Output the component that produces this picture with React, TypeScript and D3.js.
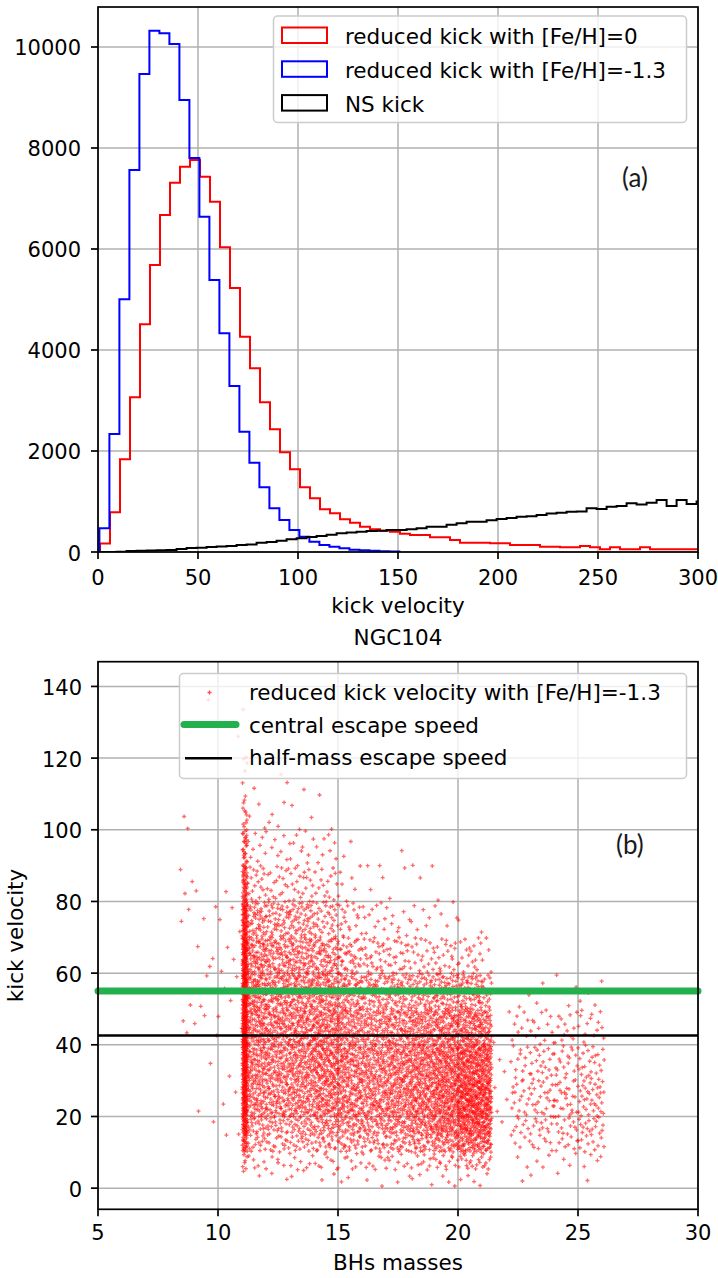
import React from 'react';
import * as d3 from 'd3';

// ---------- Panel (a): histogram data (counts per 5-unit bin) ----------
const BIN_WIDTH = 5;
const redOffset = 1;
const blueOffset = 0.7;
const nsOffset = -0.7;

const redCounts = [
  170, 786, 1835, 3063, 4508, 5683, 6673, 7313, 7630, 7762,
  7432, 6937, 6033, 5230, 4263, 3637, 2964, 2430, 1974, 1637,
  1281, 1063, 845, 766, 647, 580, 501, 449, 422, 400,
  360, 337, 337, 291, 291, 238, 185, 185, 185, 172,
  172, 139, 139, 139, 106, 106, 92, 92, 119, 92,
  53, 92, 53, 53, 92, 53, 53, 53, 53, 53,
];

const blueCounts = [
  469, 2337, 5004, 7564, 9464, 10322, 10270, 10058, 8950, 7800,
  6640, 5386, 4330, 3287, 2382, 1768, 1281, 865, 634, 436,
  303, 204, 139, 105, 73, 45, 35, 25, 15, 8,
];

const nsCounts = [
  0, 0, 5, 20, 25, 30, 35, 40, 60, 79,
  85, 100, 110, 120, 139, 150, 185, 200, 224, 250,
  271, 295, 317, 340, 370, 385, 400, 415, 422, 436,
  436, 450, 470, 501, 501, 540, 567, 600, 600, 630,
  653, 675, 699, 710, 733, 760, 779, 798, 800, 865,
  850, 898, 910, 964, 940, 977, 1030, 911, 1030, 950, 1000,
];

const histXTicks = [0, 50, 100, 150, 200, 250, 300];
const histYTicks = [0, 2000, 4000, 6000, 8000, 10000];
const histLegend = [
  { label: 'reduced kick with [Fe/H]=0', color: '#ff0000' },
  { label: 'reduced kick with [Fe/H]=-1.3', color: '#0000ff' },
  { label: 'NS kick', color: '#000000' },
];

// ---------- Panel (b): scatter density (points per mass x velocity cell) ----------
const scatXTicks = [5, 10, 15, 20, 25, 30];
const scatYTicks = [0, 20, 40, 60, 80, 100, 120, 140];
const centralEscape = 55;
const halfMassEscape = 42.6;

const massBinEdges = [8.4, 9, 10, 11.02, 11.22, 12, 13, 14, 15, 15.3, 16, 17, 18, 19, 20, 21, 21.4, 22.2, 23, 24, 25, 26.1];
const velBinEdges = [0, 5, 10, 15, 20, 30, 40, 50, 60, 70, 80, 90, 100, 110, 120, 130, 140];

// rows = mass bins, columns = velocity bins (0-5, 5-10, 10-15, 15-20, 20-30 ... 130-140)
const scatterCounts = [
  [0, 0, 0, 0, 0, 0, 2, 1, 0, 2, 3, 0, 2, 0, 0, 0],             // 8.4-9
  [0, 0, 0, 1, 1, 1, 3, 2, 3, 2, 1, 0, 0, 0, 0, 1],             // 9-10
  [0, 0, 1, 1, 2, 1, 2, 3, 3, 3, 1, 0, 0, 0, 1, 0],             // 10-11
  [1, 6, 22, 33, 80, 85, 90, 90, 80, 62, 42, 25, 11, 4, 1, 1],   // stripe 11.0-11.2
  [1, 5, 15, 23, 62, 70, 75, 75, 66, 46, 20, 8, 3, 1, 0, 0],     // 11.2-12
  [2, 6, 17, 25, 75, 82, 85, 80, 70, 48, 20, 8, 4, 3, 0, 0],     // 12-13
  [2, 7, 19, 27, 80, 90, 90, 80, 70, 48, 20, 9, 3, 1, 0, 0],     // 13-14
  [2, 8, 22, 33, 95, 105, 98, 80, 62, 34, 15, 8, 2, 0, 0, 0],    // 14-15
  [1, 2, 7, 10, 28, 30, 27, 21, 13, 7, 3, 1, 0, 0, 0, 0],        // 15-15.3
  [1, 6, 16, 24, 60, 62, 56, 44, 26, 11, 4, 1, 0, 0, 0, 0],      // 15.3-16
  [2, 8, 22, 34, 84, 84, 72, 54, 28, 11, 3, 1, 0, 0, 0, 0],      // 16-17
  [2, 9, 25, 37, 92, 92, 78, 54, 24, 8, 2, 1, 0, 0, 0, 0],       // 17-18
  [3, 11, 30, 46, 105, 105, 84, 54, 20, 6, 2, 1, 0, 0, 0, 0],    // 18-19
  [3, 13, 40, 58, 128, 120, 92, 60, 20, 5, 1, 0, 0, 0, 0, 0],    // 19-20
  [4, 18, 55, 75, 175, 145, 100, 60, 18, 2, 0, 0, 0, 0, 0, 0],   // 20-21
  [1, 7, 22, 30, 66, 58, 36, 16, 4, 0, 0, 0, 0, 0, 0, 0],        // 21-21.4
  [0, 0, 0, 1, 3, 2, 2, 0, 0, 0, 0, 0, 0, 0, 0, 0],              // 21.4-22.2
  [1, 2, 5, 7, 17, 13, 8, 2, 0, 0, 0, 0, 0, 0, 0, 0],            // 22.2-23
  [1, 3, 8, 12, 24, 20, 13, 3, 0, 0, 0, 0, 0, 0, 0, 0],          // 23-24
  [1, 3, 8, 12, 26, 20, 13, 3, 0, 0, 0, 0, 0, 0, 0, 0],          // 24-25
  [1, 4, 12, 16, 35, 25, 14, 4, 0, 0, 0, 0, 0, 0, 0, 0],         // 25-26.1
];

const scatLegend = [
  'reduced kick velocity with [Fe/H]=-1.3',
  'central escape speed',
  'half-mass escape speed',
];

// ---------- helpers ----------
function halton(i: number, b: number) {
  let f = 1;
  let r = 0;
  let n = i;
  while (n > 0) {
    f /= b;
    r += f * (n % b);
    n = Math.floor(n / b);
  }
  return r;
}

function stepPath(counts: number[], offset: number, x: any, y: any) {
  const edge = (i: number) => offset + i * BIN_WIDTH;
  let d = `M${x(edge(0))},${y(0)}`;
  counts.forEach((c, i) => {
    d += `L${x(edge(i))},${y(c)}L${x(edge(i + 1))},${y(c)}`;
  });
  d += `L${x(edge(counts.length))},${y(0)}`;
  return d;
}

const FONT = 'DejaVu Sans, sans-serif';
const GRID = '#b0b0b0';

export default function App() {
  // panel (a) scales
  const L = 98, R = 698;
  const aTop = 7, aBot = 552;
  const xa = d3.scaleLinear().domain([0, 300]).range([L, R]);
  const ya = d3.scaleLinear().domain([0, 10792]).range([aBot, aTop]);

  // panel (b) scales
  const bTop = 661.7, bBot = 1209.3;
  const xb = d3.scaleLinear().domain([5, 30]).range([L, R]);
  const yb = d3.scaleLinear().domain([-5.9, 146.9]).range([bBot, bTop]);

  // scatter points from density table
  const pts: { m: number; v: number }[] = [];
  let idx = 1;
  scatterCounts.forEach((row, mi) => {
    const m0 = massBinEdges[mi];
    const m1 = massBinEdges[mi + 1];
    row.forEach((n, vi) => {
      const v0 = velBinEdges[vi];
      const v1 = velBinEdges[vi + 1];
      for (let k = 0; k < n; k++) {
        const hx = halton(idx, 2);
        const hy = halton(idx, 3);
        idx += 1;
        pts.push({ m: m0 + hx * (m1 - m0), v: v0 + hy * (v1 - v0) });
      }
    });
  });

  const plus = (cx: number, cy: number, s = 2) =>
    `M${cx - s},${cy}h${2 * s}M${cx},${cy - s}v${2 * s}`;

  return (
    <svg width={718} height={1278} style={{ display: 'block', position: 'absolute', left: 0, top: 0 }} fontFamily={FONT}>
      <defs>
        <clipPath id="clipA">
          <rect x={L} y={aTop} width={R - L} height={aBot - aTop} />
        </clipPath>
        <clipPath id="clipB">
          <rect x={L} y={bTop} width={R - L} height={bBot - bTop} />
        </clipPath>
      </defs>
      <rect x={0} y={0} width={718} height={1278} fill="#fff" />

      {/* ---------- Panel (a) ---------- */}
      <g>
        {histXTicks.map((t) => (
          <line key={'gxa' + t} x1={xa(t)} x2={xa(t)} y1={aTop} y2={aBot} stroke={GRID} strokeWidth={1.5} />
        ))}
        {histYTicks.map((t) => (
          <line key={'gya' + t} x1={L} x2={R} y1={ya(t)} y2={ya(t)} stroke={GRID} strokeWidth={1.5} />
        ))}
        <g clipPath="url(#clipA)" fill="none" strokeWidth={2} strokeLinejoin="miter">
          <path d={stepPath(redCounts, redOffset, xa, ya)} stroke="#ff0000" />
          <path d={stepPath(blueCounts, blueOffset, xa, ya)} stroke="#0000ff" />
          <path d={stepPath(nsCounts, nsOffset, xa, ya)} stroke="#000000" />
        </g>
        <rect x={L} y={aTop} width={R - L} height={aBot - aTop} fill="none" stroke="#000" strokeWidth={1.7} />
        {histXTicks.map((t) => (
          <g key={'txa' + t}>
            <line x1={xa(t)} x2={xa(t)} y1={aBot} y2={aBot + 7} stroke="#000" strokeWidth={1.7} />
            <text x={xa(t)} y={585} fontSize={21} textAnchor="middle" fill="#000">{t}</text>
          </g>
        ))}
        {histYTicks.map((t) => (
          <g key={'tya' + t}>
            <line x1={L - 7} x2={L} y1={ya(t)} y2={ya(t)} stroke="#000" strokeWidth={1.7} />
            <text x={81} y={ya(t) + 8.5} fontSize={21} textAnchor="end" fill="#000">{t}</text>
          </g>
        ))}
        <text x={(L + R) / 2} y={613} fontSize={21.5} textAnchor="middle" fill="#000">kick velocity</text>

        {/* legend */}
        <rect x={273.5} y={16} width={413} height={106.5} rx={4} fill="#fff" fillOpacity={0.8} stroke="#cccccc" strokeWidth={1.5} />
        {histLegend.map((e, i) => (
          <g key={'la' + i}>
            <rect x={282} y={27.5 + i * 33.8} width={45} height={15.5} fill="none" stroke={e.color} strokeWidth={2} />
            <text x={345} y={44 + i * 33.8} fontSize={21.5} fill="#000">{e.label}</text>
          </g>
        ))}
        <text x={622} y={187} fontSize={26} fontFamily="Lato, Open Sans, sans-serif" fill="#1a1a1a">(a)</text>
      </g>

      {/* ---------- Panel (b) ---------- */}
      <g>
        <text x={(L + R) / 2} y={645} fontSize={21.5} textAnchor="middle" fill="#000">NGC104</text>
        {scatXTicks.map((t) => (
          <line key={'gxb' + t} x1={xb(t)} x2={xb(t)} y1={bTop} y2={bBot} stroke={GRID} strokeWidth={1.5} />
        ))}
        {scatYTicks.map((t) => (
          <line key={'gyb' + t} x1={L} x2={R} y1={yb(t)} y2={yb(t)} stroke={GRID} strokeWidth={1.5} />
        ))}
        <g clipPath="url(#clipB)" stroke="#ff0000" strokeWidth={1.3} strokeOpacity={0.58} fill="none">
          {pts.map((p, i) => (
            <path key={i} d={plus(xb(p.m), yb(p.v))} />
          ))}
        </g>
        <line x1={xb(5)} x2={xb(30)} y1={yb(centralEscape)} y2={yb(centralEscape)} stroke="#22b14c" strokeWidth={7} strokeLinecap="round" />
        <line x1={xb(5)} x2={xb(30)} y1={yb(halfMassEscape)} y2={yb(halfMassEscape)} stroke="#000" strokeWidth={2.5} />
        <rect x={L} y={bTop} width={R - L} height={bBot - bTop} fill="none" stroke="#000" strokeWidth={1.7} />
        {scatXTicks.map((t) => (
          <g key={'txb' + t}>
            <line x1={xb(t)} x2={xb(t)} y1={bBot} y2={bBot + 7} stroke="#000" strokeWidth={1.7} />
            <text x={xb(t)} y={1240} fontSize={21} textAnchor="middle" fill="#000">{t}</text>
          </g>
        ))}
        {scatYTicks.map((t) => (
          <g key={'tyb' + t}>
            <line x1={L - 7} x2={L} y1={yb(t)} y2={yb(t)} stroke="#000" strokeWidth={1.7} />
            <text x={82} y={yb(t) + 8.5} fontSize={21} textAnchor="end" fill="#000">{t}</text>
          </g>
        ))}
        <text x={(L + R) / 2} y={1270} fontSize={21.5} textAnchor="middle" fill="#000">BHs masses</text>
        <text transform={`translate(23,${(bTop + bBot) / 2}) rotate(-90)`} fontSize={21.5} textAnchor="middle" fill="#000">kick velocity</text>

        {/* legend */}
        <rect x={179.5} y={673.5} width={507} height={105} rx={4} fill="#fff" fillOpacity={0.8} stroke="#cccccc" strokeWidth={1.5} />
        <path d={plus(209.5, 692.5)} stroke="#ff0000" strokeOpacity={0.7} strokeWidth={1.3} />
        <line x1={184} x2={236} y1={724.5} y2={724.5} stroke="#22b14c" strokeWidth={7} strokeLinecap="round" />
        <line x1={185} x2={232} y1={758.3} y2={758.3} stroke="#000" strokeWidth={2.5} />
        {scatLegend.map((s, i) => (
          <text key={'lb' + i} x={249} y={700 + i * 32.5} fontSize={21.5} fill="#000">{s}</text>
        ))}
        <text x={616} y={854} fontSize={26} fontFamily="Lato, Open Sans, sans-serif" fill="#1a1a1a">(b)</text>
      </g>
    </svg>
  );
}
